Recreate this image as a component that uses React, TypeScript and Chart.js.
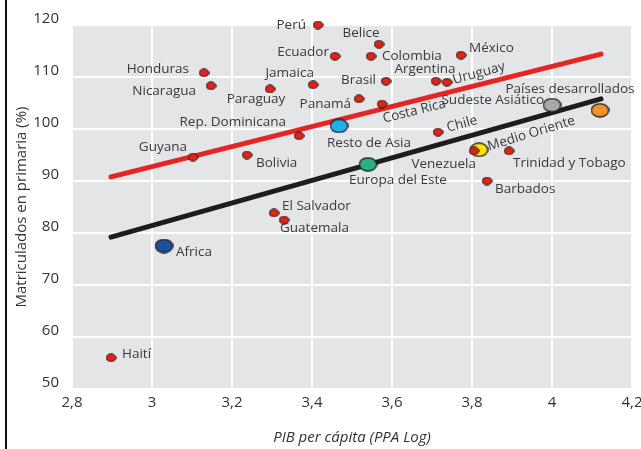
import React, { useEffect, useRef } from "react";
import { Chart, registerables } from "chart.js";

Chart.register(...registerables);

// ---------- data ----------
const countryNames = [
  "Perú", "Belice", "Ecuador", "Colombia", "México", "Brasil", "Argentina", "Uruguay",
  "Panamá", "Costa Rica", "Chile", "Venezuela", "Trinidad y Tobago", "Barbados",
  "Honduras", "Nicaragua", "Jamaica", "Paraguay", "Rep. Dominicana", "Guyana",
  "Bolivia", "El Salvador", "Guatemala", "Haití",
];
const countryX = [
  3.415, 3.5675, 3.4575, 3.5475, 3.7725, 3.585, 3.71, 3.7375,
  3.5175, 3.575, 3.715, 3.805, 3.8925, 3.8375,
  3.13, 3.1475, 3.4025, 3.295, 3.3675, 3.1025,
  3.2375, 3.305, 3.33, 2.8975,
];
const countryY = [
  120, 116.3, 114, 114, 114.2, 109.2, 109.2, 109,
  105.8, 104.8, 99.4, 95.8, 95.8, 90,
  110.8, 108.3, 108.5, 107.7, 98.7, 94.6,
  95, 83.85, 82.5, 56,
];

const regionNames = ["Africa", "Resto de Asia", "Europa del Este", "Medio Oriente", "Sudeste Asiático", "Países desarrollados"];
const regionX = [3.03, 3.4675, 3.54, 3.8175, 4.0, 4.12];
const regionY = [77.5, 100.6, 93.2, 96.0, 104.6, 103.6];
const regionColors = ["#1c4f9c", "#1fb2e8", "#2bb07a", "#ffe500", "#a7a8aa", "#ee9229"];

const latinTrendX = [2.8975, 4.1225];
const latinTrendY = [90.8, 114.4];
const worldTrendX = [2.8975, 4.1225];
const worldTrendY = [79.2, 105.8];

const xTicks = [2.8, 3, 3.2, 3.4, 3.6, 3.8, 4, 4.2];
const yTicks = [50, 60, 70, 80, 90, 100, 110, 120];

// ---------- label placement (pixel offsets from the point) ----------
type Place = [string, number, number, number?]; // align, dx, dy, rotation(deg)
const countryLabelPlace: Place[] = [
  ["right", -12, 0], ["center", -18, -11], ["right", -6, -4], ["left", 11, 0],
  ["left", 8, -7], ["right", -10, -1], ["center", -11, -12], ["left", 6, -2, -15],
  ["right", -8, 5], ["left", 1, 15, -14], ["left", 9, -4, -15], ["right", 2, 13],
  ["left", 4, 12], ["left", 8, 8],
  ["right", -15, -4], ["right", -15, 5], ["right", 1, -12], ["center", -14, 10],
  ["right", -13, -14], ["right", -6, -10],
  ["left", 9, 8], ["left", 8, -7], ["left", -4, 8], ["left", 11, -4],
];
const regionLabelPlace: Place[] = [
  ["left", 12, 6], ["left", -12, 17], ["left", -19, 16], ["left", 9, -3, -17],
  ["right", -8, -5], ["center", -30, -21],
];

function ellipse(w: number, h: number, fill: string, lw: number): HTMLCanvasElement {
  const c = document.createElement("canvas");
  c.width = w;
  c.height = h;
  const ctx = c.getContext("2d")!;
  ctx.beginPath();
  ctx.ellipse(w / 2, h / 2, w / 2 - lw / 2 - 0.2, h / 2 - lw / 2 - 0.2, 0, 0, Math.PI * 2);
  ctx.fillStyle = fill;
  ctx.fill();
  ctx.lineWidth = lw;
  ctx.strokeStyle = "#1a1a1a";
  ctx.stroke();
  return c;
}

const fmt = (v: number) => String(Number(v.toFixed(1))).replace(".", ",");

export default function App() {
  const ref = useRef<HTMLCanvasElement | null>(null);

  useEffect(() => {
    if (!ref.current) return;
    const redDot = ellipse(11, 9, "#e2231a", 1);
    const bigDots = regionColors.map((c) => ellipse(19, 15, c, 1.3));

    const bgPlugin = {
      id: "bg",
      beforeDraw(chart: any) {
        const { ctx, chartArea: a } = chart;
        ctx.save();
        ctx.fillStyle = "#e4e5e7";
        ctx.fillRect(a.left, a.top, a.right - a.left, a.bottom - a.top);
        ctx.restore();
      },
      afterDraw(chart: any) {
        const { ctx } = chart;
        ctx.save();
        ctx.fillStyle = "#111";
        ctx.fillRect(5, 0, 2, chart.height);
        ctx.restore();
      },
    };

    const labelPlugin = {
      id: "labels",
      afterDatasetsDraw(chart: any) {
        const { ctx, scales } = chart;
        const draw = (name: string, x: number, y: number, p: Place) => {
          const px = scales.x.getPixelForValue(x) + p[1];
          const py = scales.y.getPixelForValue(y) + p[2];
          ctx.save();
          ctx.translate(px, py);
          if (p[3]) ctx.rotate((p[3] * Math.PI) / 180);
          ctx.font = "13.5px 'Open Sans'";
          ctx.fillStyle = "#3a3a3a";
          ctx.textAlign = p[0];
          ctx.textBaseline = "middle";
          ctx.fillText(name, 0, 0);
          ctx.restore();
        };
        countryNames.forEach((n, i) => draw(n, countryX[i], countryY[i], countryLabelPlace[i]));
        regionNames.forEach((n, i) => draw(n, regionX[i], regionY[i], regionLabelPlace[i]));
      },
    };

    const chart = new Chart(ref.current, {
      type: "scatter",
      data: {
        datasets: [
          {
            label: "Países",
            data: countryX.map((x, i) => ({ x, y: countryY[i] })),
            pointStyle: redDot as any,
            pointRadius: 5,
            clip: false as any,
            order: 0,
          },
          {
            label: "Regiones",
            data: regionX.map((x, i) => ({ x, y: regionY[i] })),
            pointStyle: bigDots as any,
            pointRadius: 8,
            clip: false as any,
            order: 1,
          },
          {
            label: "Tendencia América Latina",
            data: latinTrendX.map((x, i) => ({ x, y: latinTrendY[i] })),
            showLine: true,
            borderColor: "#e52521",
            borderWidth: 5,
            borderCapStyle: "round",
            pointRadius: 0,
            clip: false as any,
            order: 2,
          },
          {
            label: "Tendencia mundial",
            data: worldTrendX.map((x, i) => ({ x, y: worldTrendY[i] })),
            showLine: true,
            borderColor: "#1d1d1b",
            borderWidth: 5,
            borderCapStyle: "round",
            pointRadius: 0,
            clip: false as any,
            order: 3,
          },
        ],
      },
      options: {
        animation: false,
        responsive: false,
        events: [],
        layout: { padding: { top: 25, right: 9, bottom: 0, left: 0 } },
        plugins: { legend: { display: false }, tooltip: { enabled: false } },
        scales: {
          x: {
            type: "linear",
            min: 2.8,
            max: 4.2,
            afterBuildTicks: (s: any) => {
              s.ticks = xTicks.map((v) => ({ value: v }));
            },
            afterFit: (s: any) => {
              s.height = 60;
              s.paddingLeft = 0;
              s.paddingRight = 0;
            },
            grid: { color: "#ffffff", lineWidth: 2, drawTicks: false },
            border: { display: false },
            ticks: {
              padding: 5,
              color: "#333333",
              font: { family: "'Open Sans'", size: 15 },
              callback: (v: any) => fmt(Number(v)),
              maxRotation: 0,
            },
            title: {
              display: true,
              text: "PIB per cápita (PPA Log)",
              color: "#333333",
              font: { family: "'Open Sans'", size: 15, style: "italic" },
              padding: { top: 0, bottom: 2 },
            },
          },
          y: {
            type: "linear",
            min: 50,
            max: 120,
            afterBuildTicks: (s: any) => {
              s.ticks = yTicks.map((v) => ({ value: v }));
            },
            afterFit: (s: any) => {
              s.width = 72;
            },
            grid: { color: "#ffffff", lineWidth: 2, drawTicks: false },
            border: { display: false },
            ticks: {
              padding: 13,
              labelOffset: -6,
              color: "#333333",
              font: { family: "'Open Sans'", size: 15 },
              callback: (v: any) => fmt(Number(v)),
            },
            title: {
              display: true,
              text: "Matriculados en primaria (%)",
              color: "#333333",
              font: { family: "'Open Sans'", size: 15 },
              padding: { top: 13, bottom: 0 },
            },
          },
        },
      },
      plugins: [bgPlugin, labelPlugin],
    });
    return () => chart.destroy();
  }, []);

  return (
    <div style={{ position: "absolute", left: 0, top: 0, width: 641, height: 449, background: "#fff" }}>
      <canvas ref={ref} width={641} height={449} style={{ display: "block" }} />
    </div>
  );
}
